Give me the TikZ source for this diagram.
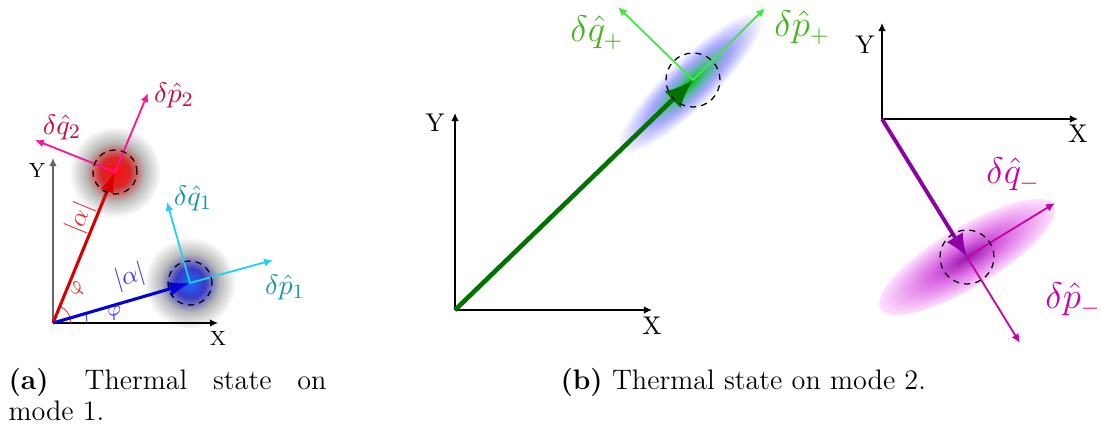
\documentclass[tikz,border=0pt]{standalone}
\usepackage{amsmath}
\usetikzlibrary{arrows.meta}

\definecolor{arrowred}{RGB}{215,0,0}
\definecolor{arrowblue}{RGB}{0,0,215}
\definecolor{quadpink}{RGB}{250,20,150}
\definecolor{labelcrimson}{RGB}{195,10,60}
\definecolor{quadcyan}{RGB}{30,210,240}
\definecolor{labelteal}{RGB}{20,150,170}
\definecolor{darkgreen}{RGB}{0,115,0}
\definecolor{quadgreen}{RGB}{60,235,60}
\definecolor{labelgreen}{RGB}{70,180,30}
\definecolor{darkpurple}{RGB}{140,0,165}
\definecolor{quadmagenta}{RGB}{200,0,170}

% blobs of the thermal states
\pgfdeclareradialshading{redblob}{\pgfpoint{0bp}{0bp}}{color(0bp)=(red!95); color(8bp)=(red!70!gray); color(16bp)=(gray!55); color(25bp)=(white); color(50bp)=(white)}
\pgfdeclareradialshading{blueblob}{\pgfpoint{0bp}{0bp}}{color(0bp)=(blue!65!cyan!90); color(8bp)=(blue!55!gray); color(16bp)=(gray!55); color(25bp)=(white); color(50bp)=(white)}
\pgfdeclareradialshading{greenblob}{\pgfpoint{0bp}{0bp}}{color(0bp)=(green!75!black); color(6bp)=(green!60!blue!70); color(14bp)=(blue!35); color(25bp)=(white); color(50bp)=(white)}
\pgfdeclareradialshading{purpleblob}{\pgfpoint{0bp}{0bp}}{color(0bp)=(darkpurple!90); color(10bp)=(darkpurple!55!magenta!60); color(25bp)=(magenta!12); color(50bp)=(white)}

\newcommand{\labsize}{\fontsize{11}{13}\selectfont}
\newcommand{\biglabsize}{\fontsize{13.5}{16}\selectfont}
\newcommand{\capsize}{\fontsize{11}{12.1}\selectfont}

\begin{document}
\begin{tikzpicture}[x=0.39pt,y=0.39pt,
	axis/.style={black,line width=0.5pt,-{Latex[length=3.2pt,width=3pt]}},
	quad/.style={line width=0.7pt,-{Latex[length=3.5pt,width=3.2pt]}},
	dashring/.style={black,line width=0.5pt,dash pattern=on 2.4pt off 2pt}]
	\useasboundingbox (0,0) rectangle (1101,434);
	
	% ---------- (a) mode 1 ----------
	\coordinate (o1) at (53,111);
	\coordinate (rc) at (115,262);
	\coordinate (bc) at (190,151);
	\coordinate (ya) at (53,276);
	\coordinate (xa) at (218,111);
	\coordinate (p2) at (148,341);
	\coordinate (q2) at (35,294);
	\coordinate (p1) at (273,174);
	\coordinate (q1) at (167,232);
	
	\shade[shading=redblob] (rc) circle (46);
	\shade[shading=blueblob] (bc) circle (46);
	
	\draw[axis,black!60] (o1) -- (ya);
	\draw[axis] (o1) -- (xa);
	\node (ylaba) at (37,264) {\footnotesize Y};
	\node (xlaba) at (218,96) {\footnotesize X};
	
	\draw[arrowred!70] ([shift={(0:18)}]o1) arc (0:67.7:18);
	\draw[arrowblue!70] ([shift={(0:34)}]o1) arc (0:16.3:34);
	
	\draw[arrowred,line width=1.2pt,-{Latex[length=8pt,width=5.5pt]}] (o1) -- (rc);
	\draw[arrowblue,line width=1.2pt,-{Latex[length=8pt,width=5.5pt]}] (o1) -- (bc);
	
	\draw[quad,quadpink] (rc) -- (p2);
	\draw[quad,quadpink] (rc) -- (q2);
	\draw[quad,quadcyan] (bc) -- (p1);
	\draw[quad,quadcyan] (bc) -- (q1);
	
	\draw[dashring] (rc) circle (22);
	\draw[dashring] (bc) circle (22);
	
	\node[labelcrimson] (p2lab) at (174,339) {\labsize$\delta\hat{p}_2$};
	\node[labelcrimson] (q2lab) at (62,307) {\labsize$\delta\hat{q}_2$};
	\node[labelteal] (q1lab) at (193,236) {\labsize$\delta\hat{q}_1$};
	\node[labelteal] (p1lab) at (285,147) {\labsize$\delta\hat{p}_1$};
	\node[arrowred!80,rotate=67.7] (alphared) at (80,216) {$|\alpha|$};
	\node[arrowred!80,rotate=67.7] (phired) at (78,145) {\footnotesize$\varphi$};
	\node[arrowblue!75,rotate=16.3] (alphablue) at (130,157) {$|\alpha|$};
	\node[arrowblue!75,rotate=16.3] (phiblue) at (115,121) {\footnotesize$\varphi$};
	
	% ---------- (b) mode 2, plus ----------
	\coordinate (o2) at (455,124);
	\coordinate (gc) at (693,354);
	\coordinate (yb) at (455,321);
	\coordinate (xb) at (652,124);
	\coordinate (pplus) at (765,426);
	\coordinate (qplus) at (618,427);
	
	\begin{scope}[transform canvas={shift={(gc)},rotate=44}]
		\shade[shading=greenblob] (-4,0) ellipse (100 and 25);
	\end{scope}
	
	\draw[axis] (o2) -- (yb);
	\draw[axis] (o2) -- (xb);
	\node (ylabb) at (435,311) {Y};
	\node (xlabb) at (652,108) {X};
	
	\draw[darkgreen,line width=1.8pt,-{Latex[length=11pt,width=9pt]}] (o2) -- (gc);
	\draw[quad,quadgreen] (gc) -- (pplus);
	\draw[quad,quadgreen] (gc) -- (qplus);
	\draw[dashring] (gc) circle (27);
	
	\node[labelgreen] (qpluslab) at (597,401) {\biglabsize$\delta\hat{q}_+$};
	\node[labelgreen] (ppluslab) at (802,406) {\biglabsize$\delta\hat{p}_+$};
	
	% ---------- (b) mode 2, minus ----------
	\coordinate (o3) at (882,315);
	\coordinate (pc) at (967,177);
	\coordinate (yc) at (882,411);
	\coordinate (xc) at (1078,315);
	\coordinate (qminus) at (1055,231);
	\coordinate (pminus) at (1020,91);
	
	\begin{scope}[transform canvas={shift={(pc)},rotate=31}]
		\shade[shading=purpleblob] (0,0) ellipse (101 and 30);
	\end{scope}
	
	\draw[axis] (o3) -- (yc);
	\draw[axis] (o3) -- (xc);
	\node (ylabc) at (865,389) {Y};
	\node (xlabc) at (1078,300) {X};
	
	\draw[darkpurple,line width=1.5pt,-{Latex[length=9pt,width=7.5pt]}] (o3) -- (pc);
	\draw[quad,quadmagenta] (pc) -- (qminus);
	\draw[quad,quadmagenta] (pc) -- (pminus);
	\draw[dashring] (pc) circle (27);
	
	\node[quadmagenta] (qminuslab) at (1013,259) {\biglabsize$\delta\hat{q}_-$};
	\node[quadmagenta] (pminuslab) at (1073,134) {\biglabsize$\delta\hat{p}_-$};
	
	% ---------- captions ----------
	\node[anchor=north west,inner sep=0pt,text width=124pt,align=justify,font=\capsize] (capa) at (8,66)
		{\textbf{(a)}\kern4pt\ Thermal state on\linebreak mode 1.};
	\node[anchor=base west,inner sep=0pt,font=\capsize] (capb) at (560,45)
		{\textbf{(b)}\ Thermal state on mode 2.};
	
\end{tikzpicture}
\end{document}
